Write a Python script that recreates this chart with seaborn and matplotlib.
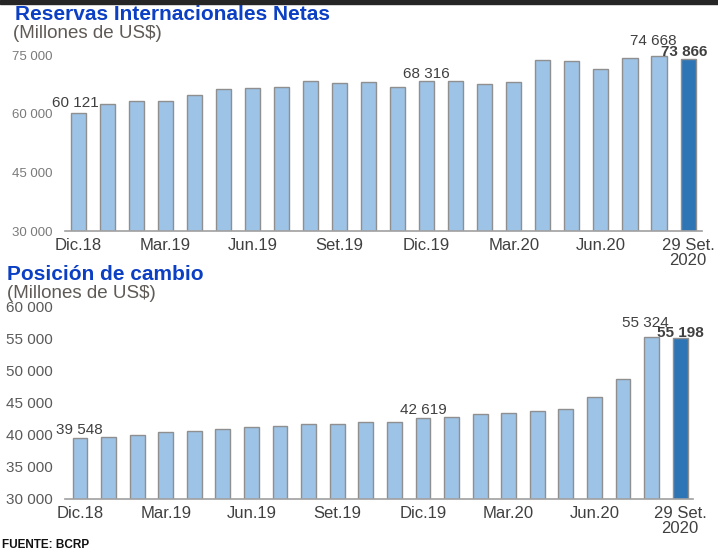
import matplotlib
matplotlib.use("Agg")
import matplotlib.pyplot as plt
import seaborn as sns
import pandas as pd
from matplotlib.patches import Rectangle

# --- DATA (millones de US$) ---
months = ["Dic.18", "Ene.19", "Feb.19", "Mar.19", "Abr.19", "May.19", "Jun.19",
          "Jul.19", "Ago.19", "Set.19", "Oct.19", "Nov.19", "Dic.19", "Ene.20",
          "Feb.20", "Mar.20", "Abr.20", "May.20", "Jun.20", "Jul.20", "Ago.20",
          "29 Set.\n2020"]
tick_months = ["Dic.18", "Mar.19", "Jun.19", "Set.19", "Dic.19", "Mar.20",
               "Jun.20", "29 Set.\n2020"]

rin = [60121, 62480, 63300, 63150, 64860, 66300, 66570, 66830, 68260, 67930,
       68000, 66830, 68316, 68440, 67590, 68000, 73630, 73460, 71400, 74240,
       74668, 73866]
posicion = [39548, 39730, 40000, 40510, 40620, 40880, 41290, 41400, 41710,
            41710, 42020, 42070, 42619, 42750, 43260, 43470, 43730, 43990,
            45960, 48820, 55324, 55198]

rin_yticks = [30000, 45000, 60000, 75000]
pos_yticks = [30000, 35000, 40000, 45000, 50000, 55000, 60000]

# months that carry a value label
labeled = ["Dic.18", "Dic.19", "Ago.20", "29 Set.\n2020"]

LIGHT = "#9dc3e6"
DARK = "#2e75b6"
TITLE_BLUE = "#0b3fc4"

sns.set_style("white")
plt.rcParams["font.family"] = ["Liberation Sans", "DejaVu Sans"]


def fmt(v):
    return f"{v:,.0f}".replace(",", " ")


def draw_panel(ax, values, yticks, xlim, ytick_size, ytick_color, offsets):
    df = pd.DataFrame({"mes": months, "valor": values})
    colors = [LIGHT] * (len(months) - 1) + [DARK]
    sns.barplot(data=df, x="mes", y="valor", hue="mes", order=months,
                palette=colors, legend=False, width=0.52, saturation=1,
                edgecolor="#8f8f8f", linewidth=1, ax=ax)
    ax.set_ylim(yticks[0], yticks[-1])
    ax.set_xlim(*xlim)
    ax.set_yticks(yticks)
    ax.set_yticklabels([fmt(t) for t in yticks], fontsize=ytick_size,
                       color=ytick_color)
    ax.set_xticks([months.index(m) for m in tick_months])
    ax.set_xticklabels(tick_months, fontsize=12, color="#404040",
                       linespacing=1.0)
    ax.tick_params(axis="both", length=0)
    ax.tick_params(axis="y", pad=9)
    ax.tick_params(axis="x", pad=5)
    ax.set_xlabel("")
    ax.set_ylabel("")
    for s in ["top", "right", "left"]:
        ax.spines[s].set_visible(False)
    ax.spines["bottom"].set_color("#a0a0a0")
    ax.spines["bottom"].set_linewidth(1.2)

    for m, (dx, dy) in zip(labeled, offsets):
        i = months.index(m)
        last = i == len(months) - 1
        ax.annotate(fmt(values[i]), (i, values[i]), xytext=(dx, dy),
                    textcoords="offset pixels", ha="center", va="center",
                    fontsize=11, color="#404040",
                    fontweight="bold" if last else "normal",
                    annotation_clip=False)


fig = plt.figure(figsize=(7.18, 5.52), dpi=100)
fig.patch.set_facecolor("white")

# top panel
ax1 = fig.add_axes([65 / 718, 1 - 231 / 552, 637 / 718, 176 / 552])
draw_panel(ax1, rin, rin_yticks, (-0.45, 21.48), 9.5, "#7a7a7a",
           [(-3, 10), (0, 7), (-6, 15), (-4, 7)])

# bottom panel
ax2 = fig.add_axes([65 / 718, 1 - 499 / 552, 628 / 718, 192 / 552])
draw_panel(ax2, posicion, pos_yticks, (-0.525, 21.45), 11, "#5a5a5a",
           [(-1, 8), (0, 8), (-6, 14), (0, 5)])

# titles
fig.text(15 / 718, 1 - 15 / 552, "Reservas Internacionales Netas",
         fontsize=15, fontweight="bold", color=TITLE_BLUE, va="center")
fig.text(13 / 718, 1 - 33 / 552, "(Millones de US$)", fontsize=13.5,
         color="#5f5a55", va="center")
fig.text(7 / 718, 1 - 275 / 552, "Posición de cambio", fontsize=15,
         fontweight="bold", color=TITLE_BLUE, va="center")
fig.text(7 / 718, 1 - 293 / 552, "(Millones de US$)", fontsize=13.5,
         color="#5f5a55", va="center")
fig.text(2 / 718, 1 - 551 / 552, "FUENTE: BCRP", fontsize=8.5,
         fontweight="bold", color="#111111", va="bottom")

# dark strip along the top edge
fig.add_artist(Rectangle((0, 1 - 4 / 552), 1, 4 / 552,
                         transform=fig.transFigure, color="#262626", zorder=5))

fig.savefig("out.png", dpi=100)
